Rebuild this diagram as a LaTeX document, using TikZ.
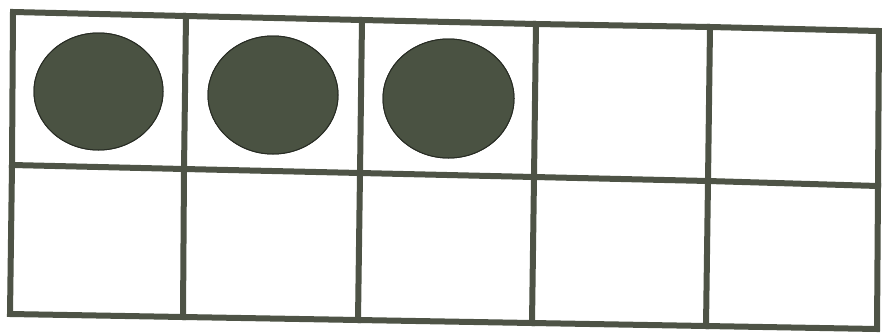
\documentclass[tikz,border=0pt]{standalone}
\usepackage{tikz}
\definecolor{gridline}{RGB}{78,83,70}
\definecolor{dotfill}{RGB}{74,82,66}
\definecolor{dotedge}{RGB}{40,44,36}
\begin{document}
\begin{tikzpicture}[x=1pt,y=-1pt,
  gridstroke/.style={draw=gridline,line width=6pt,line cap=rect,line join=miter},
  counter/.style={fill=dotfill,draw=dotedge,line width=1pt}]
\useasboundingbox[fill=white] (0,0) rectangle (882,332);
% top row points
\coordinate (T0) at (13,12);
\coordinate (T1) at (186,16);
\coordinate (T2) at (362,20);
\coordinate (T3) at (536,24);
\coordinate (T4) at (710,27);
\coordinate (T5) at (879,31);
% middle row points
\coordinate (M0) at (12,165);
\coordinate (M1) at (184,169);
\coordinate (M2) at (360,173);
\coordinate (M3) at (534,177);
\coordinate (M4) at (708,181);
\coordinate (M5) at (878,186);
% bottom row points
\coordinate (B0) at (10,314);
\coordinate (B1) at (183,317);
\coordinate (B2) at (358,320);
\coordinate (B3) at (532,323);
\coordinate (B4) at (706,326);
\coordinate (B5) at (877,329);
% counters
\fill[counter] (98.5,91.5) ellipse [x radius=64.5, y radius=58.5];
\fill[counter] (273,95) ellipse [x radius=65, y radius=59];
\fill[counter] (448.5,98.5) ellipse [x radius=65.5, y radius=59.5];
\draw[counter] (98.5,91.5) ellipse [x radius=64.5, y radius=58.5];
\draw[counter] (273,95) ellipse [x radius=65, y radius=59];
\draw[counter] (448.5,98.5) ellipse [x radius=65.5, y radius=59.5];
% grid
\draw[gridstroke] (T0) -- (T1) -- (T2) -- (T3) -- (T4) -- (T5) -- (M5) -- (B5) -- (B4) -- (B3) -- (B2) -- (B1) -- (B0) -- (M0) -- cycle;
\draw[gridstroke] (M0) -- (M1) -- (M2) -- (M3) -- (M4) -- (M5);
\draw[gridstroke] (T1) -- (M1) -- (B1);
\draw[gridstroke] (T2) -- (M2) -- (B2);
\draw[gridstroke] (T3) -- (M3) -- (B3);
\draw[gridstroke] (T4) -- (M4) -- (B4);
\end{tikzpicture}
\end{document}
